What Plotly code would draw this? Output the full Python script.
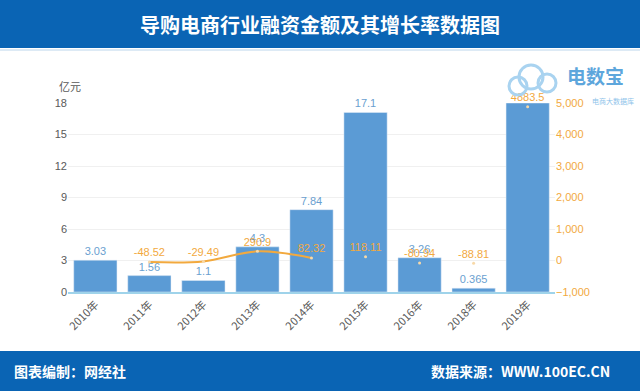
import plotly.graph_objects as go

years = ["2010年", "2011年", "2012年", "2013年", "2014年", "2015年", "2016年", "2018年", "2019年"]
amount = [3.03, 1.56, 1.1, 4.3, 7.84, 17.1, 3.26, 0.365, 18.0]
amount_labels = ["3.03", "1.56", "1.1", "4.3", "7.84", "17.1", "3.26", "0.365", ""]
growth = [None, -48.52, -29.49, 290.9, 82.32, 118.11, -80.94, -88.81, 4883.5]
growth_line = [None, -48.52, -29.49, 290.9, 82.32, None, None, None, None]
left_ticks = [0, 3, 6, 9, 12, 15, 18]
right_ticks = [-1000, 0, 1000, 2000, 3000, 4000, 5000]

FONT = "Noto Sans CJK SC"
BLUE = "#5B9BD5"
ORANGE = "#F2A93E"
HEAD = "#0A64B4"

fig = go.Figure()
fig.add_trace(go.Bar(
    x=years, y=amount, marker_color=BLUE, text=amount_labels,
    textposition="outside", textfont=dict(color="#6A9FD0", size=11, family="Liberation Sans"),
    cliponaxis=False, showlegend=False, hoverinfo="skip"))
fig.add_trace(go.Scatter(
    x=years, y=growth_line, yaxis="y2", mode="lines",
    line=dict(color=ORANGE, width=2, shape="spline"), showlegend=False, hoverinfo="skip"))
fig.add_trace(go.Scatter(
    x=years, y=growth, yaxis="y2", mode="markers+text",
    marker=dict(color="#F8D9A8", size=3),
    text=[("" if g is None else f"{g:g}") for g in growth],
    textposition="top center",
    textfont=dict(color=ORANGE, size=11, family="Liberation Sans"),
    cliponaxis=False, showlegend=False, hoverinfo="skip"))

# paper-coordinate helpers (plot area: x 68..555, y 103..292 px)
def px_x(p):
    return (p - 68) / 487.0

def px_y(p):
    return (292 - p) / 189.0

shapes = [
    dict(type="rect", xref="paper", yref="paper", x0=px_x(0), x1=px_x(640),
         y0=px_y(48), y1=px_y(0), fillcolor=HEAD, line_width=0, layer="below"),
    dict(type="rect", xref="paper", yref="paper", x0=px_x(0), x1=px_x(640),
         y0=px_y(391), y1=px_y(351), fillcolor=HEAD, line_width=0, layer="below"),
    dict(type="line", xref="paper", yref="paper", x0=px_x(0), x1=px_x(640),
         y0=px_y(50), y1=px_y(50), line=dict(color="#DDEAF5", width=2)),
]
# cloud logo outline
for cx, cy, r in [(518, 86, 9), (531, 77, 12), (547, 83, 9)]:
    shapes.append(dict(type="circle", xref="paper", yref="paper",
                       x0=px_x(cx - r), x1=px_x(cx + r), y0=px_y(cy + r), y1=px_y(cy - r),
                       line=dict(color="#A9D3F0", width=3), fillcolor="rgba(255,255,255,0)"))

annotations = [
    dict(text="<b>导购电商行业融资金额及其增长率数据图</b>", xref="paper", yref="paper",
         x=px_x(320), y=px_y(25), xanchor="center", yanchor="middle", showarrow=False,
         font=dict(family=FONT, size=20, color="white")),
    dict(text="<b>图表编制：网经社</b>", xref="paper", yref="paper",
         x=px_x(12), y=px_y(371), xanchor="left", yanchor="middle", showarrow=False,
         font=dict(family=FONT, size=14, color="white")),
    dict(text="<b>数据来源：WWW.100EC.CN</b>", xref="paper", yref="paper",
         x=px_x(612), y=px_y(371), xanchor="right", yanchor="middle", showarrow=False,
         font=dict(family=FONT, size=14, color="white")),
    dict(text="亿元", xref="paper", yref="paper", x=px_x(57), y=px_y(86),
         xanchor="left", yanchor="middle", showarrow=False,
         font=dict(family=FONT, size=11, color="#595959")),
    dict(text="<b>电数宝</b>", xref="paper", yref="paper", x=px_x(565), y=px_y(75),
         xanchor="left", yanchor="middle", showarrow=False,
         font=dict(family=FONT, size=19, color="#5DA6DC")),
    dict(text="电商大数据库", xref="paper", yref="paper", x=px_x(636), y=px_y(101),
         xanchor="right", yanchor="middle", showarrow=False,
         font=dict(family=FONT, size=7, color="#8EC3EA")),
]

fig.update_layout(
    width=640, height=392,
    margin=dict(l=68, r=85, t=103, b=100, autoexpand=False),
    paper_bgcolor="white", plot_bgcolor="white",
    bargap=0.2,
    font=dict(family=FONT, color="#595959"),
    shapes=shapes, annotations=annotations,
    xaxis=dict(tickangle=-45, tickfont=dict(size=11, color="#595959"),
               showline=True, linecolor="#9FD3EA", linewidth=2, ticks="",
               showgrid=False, automargin=False),
    yaxis=dict(range=[0, 18], tickvals=left_ticks, showgrid=True, gridcolor="#F0F0F0",
               zeroline=False, automargin=False,
               tickfont=dict(size=11, color="#595959", family="Liberation Sans"), ticks=""),
    yaxis2=dict(range=[-1000, 5000], tickvals=right_ticks, overlaying="y", side="right",
                showgrid=False, zeroline=False, tickformat=",", automargin=False,
                tickfont=dict(size=11, color=ORANGE, family="Liberation Sans"), ticks=""),
)

fig.write_html("out.html", config={"displayModeBar": False},
               post_script="document.body.style.margin='0';document.body.style.overflow='hidden';")
